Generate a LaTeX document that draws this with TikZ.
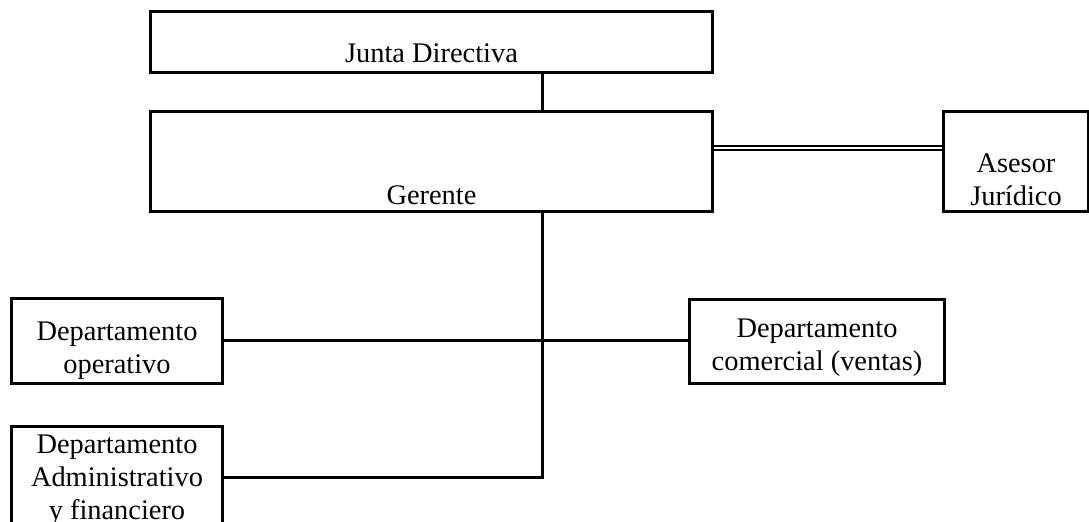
\documentclass[tikz,border=0pt]{standalone}
\usepackage{fontspec}
\setmainfont{Liberation Serif}
\usetikzlibrary{positioning,calc}
\tikzset{
  unit/.style={draw, line width=1.5pt, inner sep=0pt, align=center},
  line/.style={line width=1.5pt},
  twin/.style={double, line width=0.65pt, double distance=1.35pt},
  bottomlab/.style={anchor=south, inner sep=0pt, align=center},
}
\begin{document}
\begin{tikzpicture}[x=0.5pt,y=-0.5pt,
  every node/.style={font=\fontsize{14.2}{16.5}\selectfont}]
\useasboundingbox (0,0) rectangle (1089,522);
% top
\node[unit, minimum width=281pt, minimum height=30.5pt, anchor=north west,
  label={[bottomlab, yshift=5.5pt]south:Junta Directiva}] (junta) at (149,10) {};
\node[unit, minimum width=281pt, minimum height=50pt, anchor=north west,
  label={[bottomlab, yshift=4pt]south:Gerente}] (gerente) at (149,110) {};
\node[unit, minimum width=72.5pt, minimum height=50pt, anchor=north west,
  label={[bottomlab, yshift=3.5pt]south:Asesor\\Jurídico}] (asesor) at (942,110) {};
% departments
\node[unit, minimum width=105.5pt, minimum height=42.5pt, anchor=north west,
  label={[bottomlab, yshift=2.5pt]south:Departamento\\operativo}] (oper) at (10,297) {};
\node[unit, minimum width=127.5pt, minimum height=42pt, anchor=north west,
  label={[bottomlab, yshift=4pt]south:Departamento\\comercial (ventas)}] (comer) at (688,298) {};
\node[unit, minimum width=105.5pt, minimum height=51pt, anchor=north west,
  label={[bottomlab, yshift=2pt]south:Departamento\\Administrativo\\y financiero}] (admin) at (10,425) {};
\coordinate (trunk) at (542,341);
\coordinate (legal) at (0,148);
% connectors
\draw[line] (trunk |- junta.south) -- (trunk |- gerente.north);
\draw[line] (trunk |- gerente.south) -- (trunk |- admin.east) -- (admin.east);
\draw[line] (oper.east) -- (oper.east -| comer.west);
\draw[twin] (gerente.east |- legal) -- (asesor.west |- legal);
\end{tikzpicture}
\end{document}
